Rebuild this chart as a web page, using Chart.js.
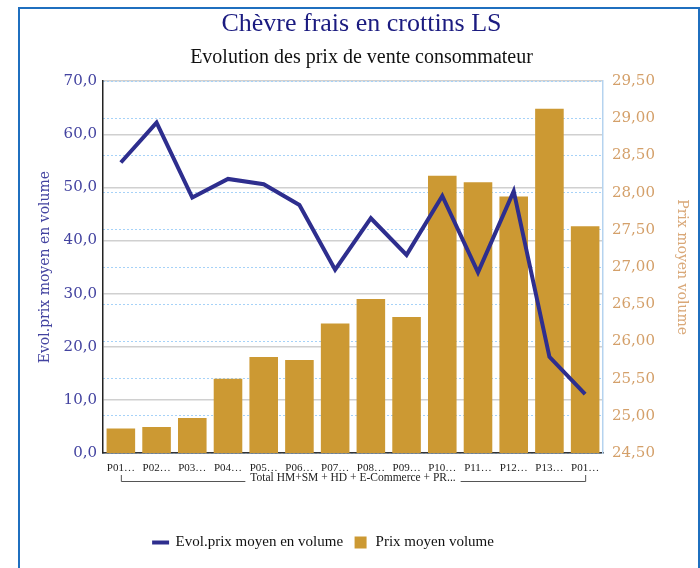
<!DOCTYPE html>
<html>
<head>
<meta charset="utf-8">
<script src="https://cdn.jsdelivr.net/npm/chart.js@4"></script>
<style>
  html, body { margin: 0; padding: 0; background: #fff; }
  #frame { position: absolute; left: 18px; top: 7px; width: 678px; height: 600px; border: 2px solid #1f6fbf; }
  #chart { position: absolute; left: 0; top: 0; }
</style>
</head>
<body>
<div id="frame"></div>
<canvas id="chart" width="700" height="568"></canvas>
<script>
// periodes (libelles tronques comme dans l'original)
var periodes = ['P01…', 'P02…', 'P03…', 'P04…', 'P05…', 'P06…', 'P07…', 'P08…', 'P09…', 'P10…', 'P11…', 'P12…', 'P13…', 'P01…'];
var groupe = 'Total HM+SM + HD + E-Commerce + PR...';

// Evol.prix moyen en volume (axe gauche)
var evolPrix = [54.7, 62.2, 48.1, 51.6, 50.6, 46.7, 34.5, 44.2, 37.3, 48.4, 34.0, 49.3, 18.1, 11.1];
// Prix moyen volume (axe droit)
var prixMoyen = [24.83, 24.85, 24.97, 25.50, 25.79, 25.75, 26.24, 26.57, 26.33, 28.23, 28.14, 27.95, 29.13, 27.55];

var ticksGauche = [0, 10, 20, 30, 40, 50, 60, 70];
var ticksDroite = [24.5, 25, 25.5, 26, 26.5, 27, 27.5, 28, 28.5, 29, 29.5];

function virgule(v, d) { return v.toFixed(d).replace('.', ','); }

// accolade + libelle de groupe sous l'axe des x
var groupePlugin = {
    id: 'groupe',
    afterLayout: function (chart) {
        // la legende de l'original est decalee vers la gauche
        chart.legend.left -= 38;
        chart.legend.right -= 38;
    },
    afterDraw: function (chart) {
        var ctx = chart.ctx;
        var x = chart.scales.x;
        var x0 = x.getPixelForValue(0);
        var x1 = x.getPixelForValue(periodes.length - 1);
        var y = 481;
        var cx = (x0 + x1) / 2;
        ctx.save();
        ctx.font = '11.5px "Liberation Serif"';
        ctx.fillStyle = '#222';
        ctx.textAlign = 'center';
        ctx.textBaseline = 'middle';
        ctx.fillText(groupe, cx, 478);
        var w = ctx.measureText(groupe).width / 2 + 5;
        ctx.strokeStyle = '#555';
        ctx.lineWidth = 1;
        ctx.beginPath();
        ctx.moveTo(x0 + 0.5, 475);
        ctx.lineTo(x0 + 0.5, y + 0.5);
        ctx.lineTo(cx - w, y + 0.5);
        ctx.moveTo(cx + w, y + 0.5);
        ctx.lineTo(x1 + 0.5, y + 0.5);
        ctx.lineTo(x1 + 0.5, 475);
        ctx.stroke();
        ctx.restore();
    }
};

var ctx = document.getElementById('chart').getContext('2d');

var myChart = new Chart(ctx, {
    data: {
        labels: periodes,
        datasets: [{
            type: 'line',
            label: 'Evol.prix moyen en volume',
            data: evolPrix,
            yAxisID: 'y',
            borderColor: '#2e2e8e',
            backgroundColor: '#2e2e8e',
            borderWidth: 4,
            pointRadius: 0,
            pointStyle: 'line',
            tension: 0,
            order: 0
        }, {
            type: 'bar',
            label: 'Prix moyen volume',
            data: prixMoyen,
            yAxisID: 'y1',
            backgroundColor: '#cc9933',
            borderWidth: 0,
            pointStyle: 'rect',
            barPercentage: 0.8,
            categoryPercentage: 1.0,
            order: 1
        }]
    },
    options: {
        responsive: false,
        animation: false,
        layout: { padding: { top: 7, left: 33, right: 10, bottom: 8 } },
        scales: {
            x: {
                grid: { display: false, drawTicks: false },
                border: { display: true, color: '#333', width: 1.5 },
                ticks: {
                    color: '#222',
                    padding: 9,
                    maxRotation: 0,
                    autoSkip: false,
                    font: { family: 'Liberation Serif', size: 11 }
                },
                afterFit: function (s) { s.height = 72; }
            },
            y: {
                position: 'left',
                min: 0,
                max: 70,
                afterBuildTicks: function (s) { s.ticks = ticksGauche.map(function (v) { return { value: v }; }); },
                grid: { color: '#d0d0d0', lineWidth: 1.5, drawTicks: false },
                border: { display: true, color: '#222', width: 1.5 },
                ticks: {
                    color: '#4343a0',
                    padding: 6,
                    font: { family: 'DejaVu Serif', size: 15 },
                    callback: function (v) { return virgule(v, 1); }
                },
                title: {
                    display: true,
                    text: 'Evol.prix moyen en volume',
                    color: '#4343a0',
                    padding: { top: 4, bottom: 0 },
                    font: { family: 'DejaVu Serif', size: 14 }
                },
                afterFit: function (s) { s.width = 70; }
            },
            y1: {
                position: 'right',
                min: 24.5,
                max: 29.5,
                afterBuildTicks: function (s) { s.ticks = ticksDroite.map(function (v) { return { value: v }; }); },
                grid: { color: '#a6d2f8', lineWidth: 1, drawTicks: false },
                border: { display: true, color: '#b5d3ef', width: 1.5, dash: [2, 2] },
                ticks: {
                    color: '#d4a06a',
                    padding: 9,
                    font: { family: 'DejaVu Serif', size: 15 },
                    callback: function (v) { return virgule(v, 2); }
                },
                title: {
                    display: true,
                    text: 'Prix moyen volume',
                    color: '#d9a878',
                    padding: { top: 0, bottom: 0 },
                    font: { family: 'DejaVu Serif', size: 14 }
                },
                afterFit: function (s) { s.width = 87; }
            }
        },
        plugins: {
            title: {
                display: true,
                text: 'Chèvre frais en crottins LS',
                color: '#1b1b80',
                padding: { top: 2, bottom: 4 },
                font: { family: 'Liberation Serif', size: 26, weight: 'normal' }
            },
            subtitle: {
                display: true,
                text: 'Evolution des prix de vente consommateur',
                color: '#111',
                padding: { top: 2, bottom: 11 },
                font: { family: 'Liberation Serif', size: 20, weight: 'normal' }
            },
            legend: {
                position: 'bottom',
                labels: {
                    usePointStyle: true,
                    boxHeight: 12,
                    color: '#111',
                    padding: 10,
                    font: { family: 'Liberation Serif', size: 15 }
                }
            },
            tooltip: { enabled: false }
        }
    },
    plugins: [groupePlugin]
});
</script>
</body>
</html>
